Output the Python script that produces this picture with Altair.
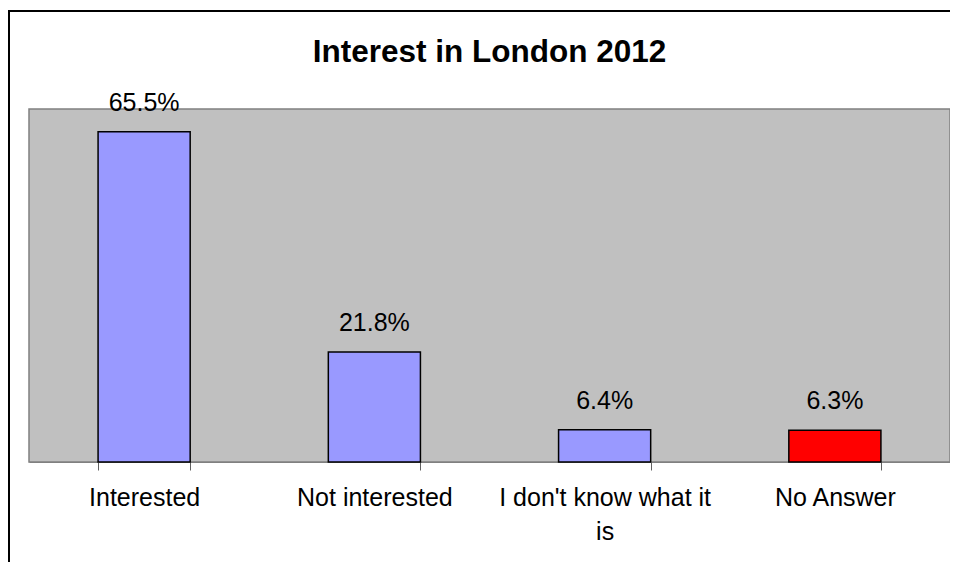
import altair as alt
import pandas as pd

categories = ["Interested", "Not interested", "I don't know what it is", "No Answer"]
values = [65.5, 21.8, 6.4, 6.3]
labels = ["65.5%", "21.8%", "6.4%", "6.3%"]
title_text = "Interest in London 2012"

df = pd.DataFrame({"category": categories, "value": values, "label": labels})

FONT = "Liberation Sans"

x_enc = alt.X(
    "category:N",
    sort=categories,
    scale=alt.Scale(paddingInner=0.6, paddingOuter=0.3),
    axis=alt.Axis(
        title=None,
        labelAngle=0,
        labelFont=FONT,
        labelFontSize=25,
        labelColor="black",
        labelPadding=15,
        labelLimit=400,
        labelLineHeight=34,
        labelExpr="length(datum.label) > 20 ? [substring(datum.label, 0, lastindexof(datum.label, ' ')), substring(datum.label, lastindexof(datum.label, ' ') + 1)] : datum.label",
        tickBand="extent",
        tickSize=8,
        tickColor="#606060",
        domainColor="#808080",
        grid=False,
    ),
)
y_enc = alt.Y("value:Q", scale=alt.Scale(domain=[0, 70], nice=False), axis=None)

bars = alt.Chart(df).mark_bar(stroke="black", strokeWidth=1.5).encode(
    x=x_enc,
    y=y_enc,
    color=alt.condition(alt.datum.category == "No Answer", alt.value("#FF0000"), alt.value("#9999FF")),
)

texts = alt.Chart(df).mark_text(
    font=FONT, fontSize=25, color="black", baseline="alphabetic", dy=-21
).encode(x=x_enc, y=y_enc, text="label:N")

frame_top = alt.Chart(alt.Data(values=[{}])).mark_rule(
    stroke="black", strokeWidth=2
).encode(x=alt.value(-21), x2=alt.value(940), y=alt.value(-98))

frame_left = alt.Chart(alt.Data(values=[{}])).mark_rule(
    stroke="black", strokeWidth=2
).encode(x=alt.value(-20), y=alt.value(-99), y2=alt.value(460))

title = alt.Chart(alt.Data(values=[{"t": title_text}])).mark_text(
    font=FONT, fontSize=31.5, fontWeight="bold", color="black", baseline="alphabetic", align="center"
).encode(x=alt.value(460.5), y=alt.value(-47), text="t:N")

chart = alt.layer(frame_top, frame_left, bars, texts, title).properties(
    width=921,
    height=353,
    autosize=alt.AutoSizeParams(type="none"),
    padding={"left": 21, "top": 101, "right": 0, "bottom": 100},
    background="white",
).configure_view(fill="#C0C0C0", stroke="#808080", strokeWidth=1.5)

chart.save("out.html", embed_options={"renderer": "svg", "actions": False})
